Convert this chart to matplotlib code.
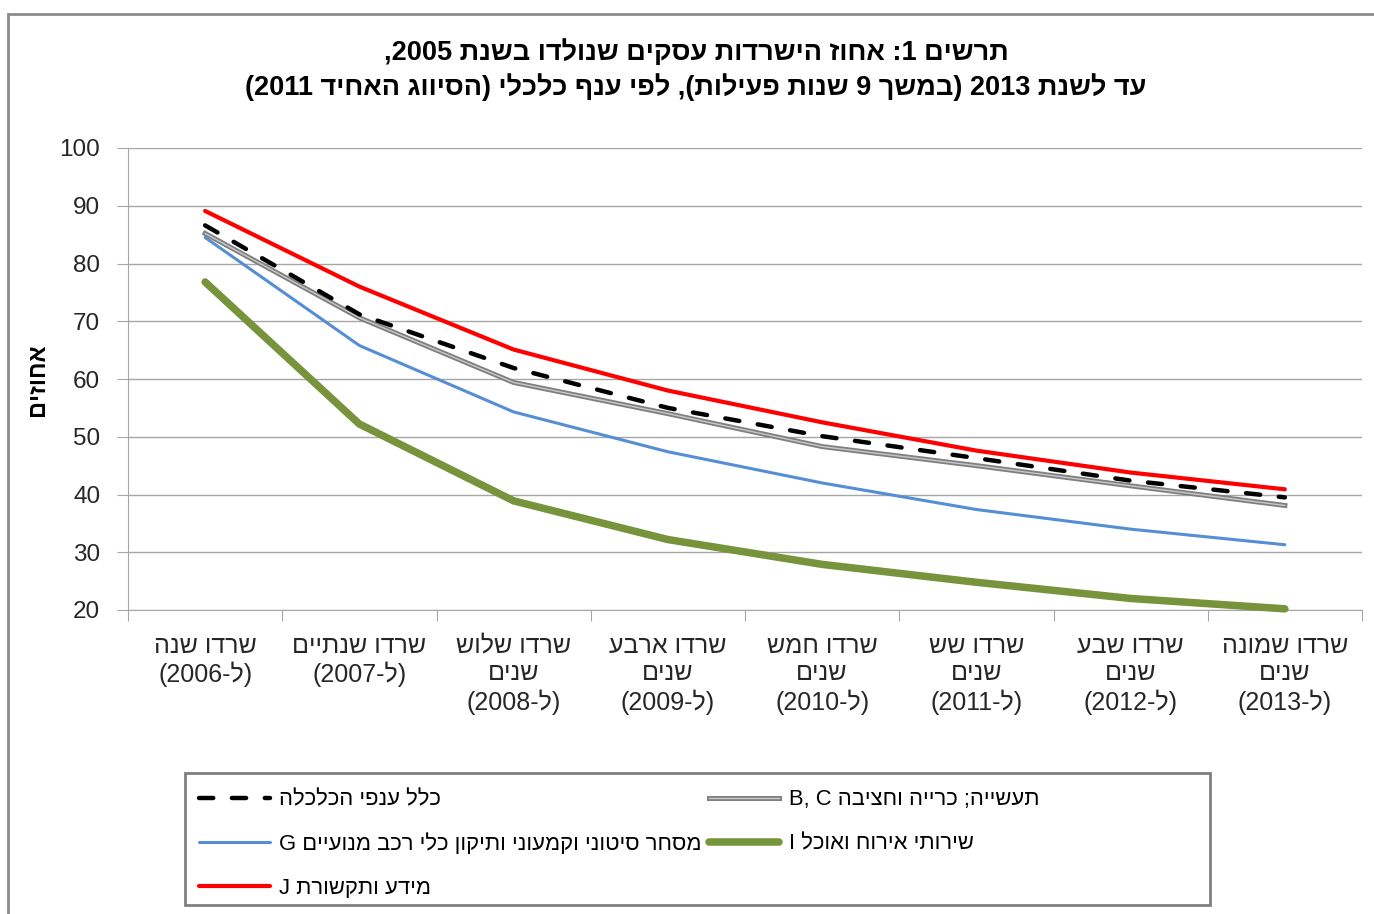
import re
import matplotlib
matplotlib.use('Agg')
import matplotlib.pyplot as plt
import matplotlib.patheffects as pe
from matplotlib.patches import Rectangle

plt.rcParams['font.family'] = ['Liberation Sans', 'DejaVu Sans']

# data (percent of 2005 businesses still alive)
categories = ['שרדו שנה\n(ל-2006)', 'שרדו שנתיים\n(ל-2007)', 'שרדו שלוש\nשנים\n(ל-2008)',
              'שרדו ארבע\nשנים\n(ל-2009)', 'שרדו חמש\nשנים\n(ל-2010)', 'שרדו שש\nשנים\n(ל-2011)',
              'שרדו שבע\nשנים\n(ל-2012)', 'שרדו שמונה\nשנים\n(ל-2013)']
total = [86.6, 71.2, 61.9, 55.0, 50.1, 46.3, 42.4, 39.5]
industry = [85.2, 70.6, 59.4, 54.0, 48.3, 45.0, 41.5, 38.1]
trade = [84.5, 65.8, 54.3, 47.4, 42.0, 37.4, 34.0, 31.3]
food = [76.8, 52.2, 38.9, 32.2, 27.9, 24.8, 22.0, 20.2]
info = [89.1, 76.0, 65.1, 58.0, 52.5, 47.6, 43.8, 40.9]

name_total = 'כלל ענפי הכלכלה'
name_industry = 'תעשייה; כרייה וחציבה B, C'
name_trade = 'מסחר סיטוני וקמעוני ותיקון כלי רכב מנועיים G'
name_food = 'שירותי אירוח ואוכל I'
name_info = 'מידע ותקשורת J'

title = 'תרשים 1: אחוז הישרדות עסקים שנולדו בשנת 2005,\nעד לשנת 2013 (במשך 9 שנות פעילות), לפי ענף כלכלי (הסיווג האחיד 2011)'
ylabel = 'אחוזים'


def vis(s):
    # crude right-to-left reordering: reverse the line, keep latin/digit runs as they are
    out = []
    for ln in s.split('\n'):
        r = ln[::-1].translate(str.maketrans('()', ')('))
        r = re.sub(r'[A-Za-z0-9](?:[A-Za-z0-9 ,.]*[A-Za-z0-9])?', lambda m: m.group(0)[::-1], r)
        out.append(r)
    return '\n'.join(out)


fig = plt.figure(figsize=(13.74, 9.14), dpi=100)
ax = fig.add_axes([128 / 1374, 1 - 610 / 914, (1362 - 128) / 1374, (610 - 148) / 914])

# outer chart border
fig.patches.append(Rectangle((8 / 1374, -0.05), 1.1, 1 - 14 / 914 + 0.05, transform=fig.transFigure,
                             fill=False, edgecolor='#8c8c8c', linewidth=2))

x = list(range(len(categories)))
grid_col = '#a6a6a6'

l_food, = ax.plot(x, food, color='#77933c', linewidth=5.4, solid_capstyle='round', clip_on=False, zorder=3)
l_trade, = ax.plot(x, trade, color='#558ed5', linewidth=2.2, solid_capstyle='round', zorder=4)
l_ind, = ax.plot(x, industry, color='#c8c8c8', linewidth=1.0, zorder=5,
                 path_effects=[pe.Stroke(linewidth=3.6, foreground='#7f7f7f'), pe.Normal()])
l_total, = ax.plot(x, total, color='black', linewidth=3.2, dashes=(3.2, 4.2), dash_capstyle='round', zorder=6)
l_info, = ax.plot(x, info, color='#ff0000', linewidth=3.0, solid_capstyle='round', zorder=7)

ax.set_xlim(-0.5, len(categories) - 0.5)
ax.set_ylim(20, 100)
ax.set_yticks(range(20, 101, 10))
ax.yaxis.grid(True, color=grid_col, linewidth=1)
ax.set_axisbelow(True)
for s in ['top', 'right']:
    ax.spines[s].set_visible(False)
ax.spines['left'].set_color(grid_col)
ax.spines['bottom'].set_color(grid_col)

ax.set_xticks([i - 0.5 for i in range(len(categories) + 1)])
ax.set_xticklabels([])
ax.set_xticks(x, minor=True)
ax.set_xticklabels([vis(c) for c in categories], minor=True, fontsize=18, color='#262626',
                   linespacing=1.2)
ax.tick_params(axis='x', which='major', length=8, color=grid_col)
ax.tick_params(axis='x', which='minor', length=0, pad=17)
ax.tick_params(axis='y', length=8, color=grid_col, labelsize=17.5, labelcolor='#262626', pad=12)

fig.text(38 / 1374, 1 - 380 / 914, vis(ylabel), rotation=90, ha='center', va='center',
         fontsize=17, fontweight='bold')
fig.text(696 / 1374, 1 - 70 / 914, vis(title), ha='center', va='center', fontsize=19.5,
         fontweight='bold', linespacing=1.35)

# legend box
fig.patches.append(Rectangle((185 / 1374, 1 - 905 / 914), 1025 / 1374, 132 / 914, transform=fig.transFigure,
                             fill=False, edgecolor='#7f7f7f', linewidth=2))
handles = [l_total, l_trade, l_info, l_ind, l_food]
labels = [vis(n) for n in [name_total, name_trade, name_info, name_industry, name_food]]
leg = fig.legend(handles, labels, ncol=2, loc='upper left', bbox_to_anchor=(184 / 1374, 1 - 774 / 914),
                 frameon=False, fontsize=15.8, handlelength=3.2, handletextpad=0.45,
                 columnspacing=0.3, labelspacing=1.05, borderpad=0.2)

fig.savefig('out.png', dpi=100)
